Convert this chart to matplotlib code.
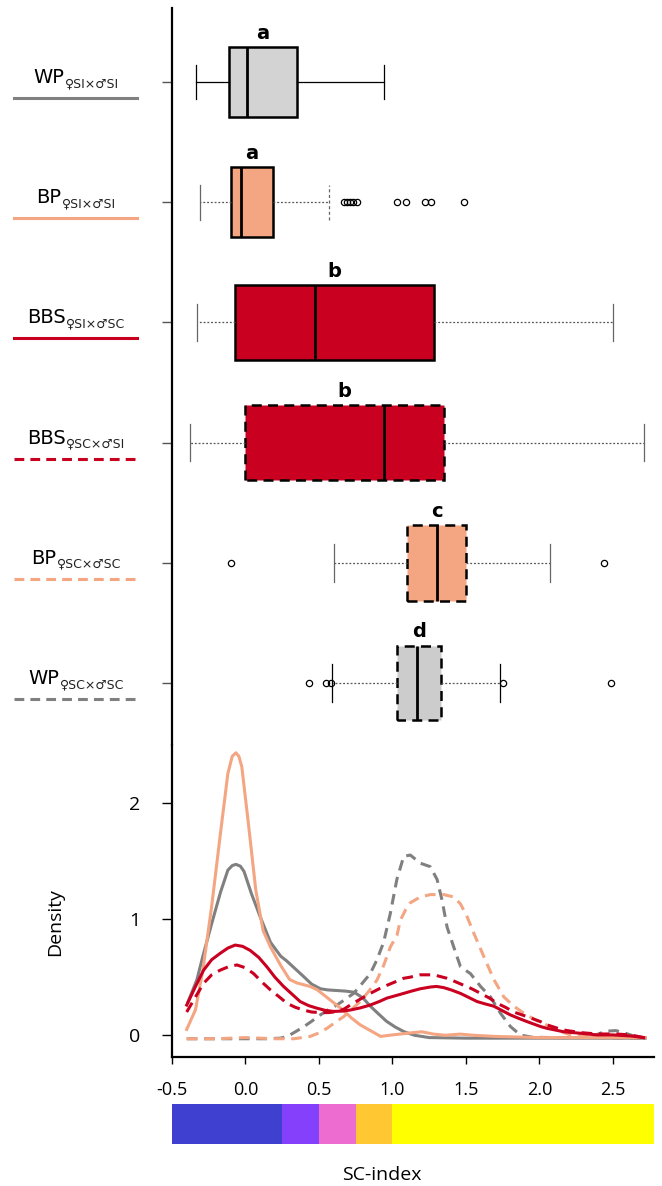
import matplotlib
matplotlib.use("Agg")
import matplotlib.pyplot as plt
from matplotlib.lines import Line2D
from matplotlib.transforms import IdentityTransform

plt.rcParams['font.family'] = 'DejaVu Sans'
plt.rcParams['axes.unicode_minus'] = False

# ---- boxplot data (groups listed top to bottom) ----
groups = ['WP', 'BP', 'BBS', 'BBS', 'BP', 'WP']
subs = ['♀SI×♂SI', '♀SI×♂SI', '♀SI×♂SC', '♀SC×♂SI', '♀SC×♂SC', '♀SC×♂SC']
letters = ['a', 'a', 'b', 'b', 'c', 'd']

whislo = [-0.34, -0.31, -0.33, -0.38, 0.60, 0.59]
q1 = [-0.11, -0.10, -0.07, 0.00, 1.10, 1.03]
med = [0.01, -0.03, 0.475, 0.94, 1.30, 1.17]
q3 = [0.35, 0.19, 1.28, 1.35, 1.50, 1.33]
whishi = [0.94, 0.57, 2.50, 2.71, 2.07, 1.73]
fliers = [[],
          [0.67, 0.69, 0.71, 0.73, 0.76, 1.03, 1.09, 1.22, 1.26, 1.49],
          [],
          [],
          [-0.10, 2.44],
          [0.43, 0.55, 0.58, 1.75, 2.49]]

box_colors = ['#D3D3D3', '#F4A582', '#CA0020', '#CA0020', '#F4A582', '#CCCCCC']
line_colors = ['#808080', '#F4A582', '#CA0020', '#CA0020', '#F4A582', '#808080']
dashed = [False, False, False, True, True, True]
box_widths = [0.58, 0.58, 0.62, 0.62, 0.63, 0.62]

# ---- density curves ----
wp_si_x = [-0.39, -0.33, -0.29, -0.23, -0.17, -0.12, -0.09, -0.065, -0.035, -0.01, 0.04, 0.10, 0.17, 0.24,
           0.28, 0.34, 0.40, 0.45, 0.51, 0.56, 0.62, 0.68, 0.74, 0.80, 0.85, 0.90, 0.96, 1.02, 1.08, 1.15,
           1.25, 1.5, 2.0, 2.5, 2.72]
wp_si_y = [0.29, 0.48, 0.68, 0.96, 1.23, 1.42, 1.46, 1.47, 1.455, 1.41, 1.22, 1.02, 0.80, 0.68,
           0.64, 0.57, 0.50, 0.44, 0.40, 0.39, 0.385, 0.38, 0.37, 0.32, 0.25, 0.19, 0.12, 0.07, 0.03, 0.0,
           -0.02, -0.025, -0.025, -0.025, -0.025]

bp_si_x = [-0.40, -0.34, -0.29, -0.23, -0.17, -0.12, -0.09, -0.065, -0.045, -0.025, 0.02, 0.07, 0.12, 0.17,
           0.24, 0.30, 0.35, 0.44, 0.49, 0.55, 0.62, 0.67, 0.72, 0.78, 0.85, 0.92, 0.98, 1.05, 1.12, 1.20,
           1.28, 1.36, 1.46, 1.55, 1.7, 2.0, 2.4, 2.72]
bp_si_y = [0.05, 0.22, 0.56, 1.11, 1.74, 2.25, 2.40, 2.43, 2.40, 2.31, 1.82, 1.25, 0.90, 0.76,
           0.60, 0.48, 0.45, 0.42, 0.39, 0.33, 0.26, 0.21, 0.15, 0.09, 0.04, -0.01, 0.0, 0.01, 0.02, 0.03,
           0.01, 0.0, 0.01, 0.0, -0.01, -0.02, -0.02, -0.02]

bbs1_x = [-0.40, -0.34, -0.285, -0.23, -0.172, -0.12, -0.07, -0.02, 0.032, 0.09, 0.145, 0.20, 0.259, 0.32,
          0.372, 0.43, 0.486, 0.54, 0.6, 0.66, 0.713, 0.78, 0.849, 0.91, 0.963, 1.02, 1.076, 1.13, 1.19,
          1.258, 1.30, 1.349, 1.40, 1.463, 1.52, 1.576, 1.63, 1.69, 1.75, 1.803, 1.86, 1.917, 2.008, 2.05,
          2.166, 2.28, 2.39, 2.5, 2.62, 2.71]
bbs1_y = [0.26, 0.42, 0.56, 0.65, 0.705, 0.75, 0.776, 0.765, 0.73, 0.67, 0.59, 0.50, 0.42, 0.35,
          0.29, 0.255, 0.233, 0.215, 0.205, 0.208, 0.217, 0.235, 0.26, 0.29, 0.32, 0.34, 0.36, 0.38, 0.40,
          0.415, 0.42, 0.41, 0.39, 0.36, 0.325, 0.29, 0.27, 0.25, 0.21, 0.175, 0.145, 0.117, 0.075, 0.06,
          0.03, 0.017, 0.003, 0.003, -0.006, -0.02]

bbs2_x = [-0.40, -0.34, -0.285, -0.23, -0.172, -0.115, -0.058, 0.0, 0.056, 0.11, 0.17, 0.23, 0.282, 0.34,
          0.395, 0.45, 0.509, 0.565, 0.622, 0.67, 0.713, 0.78, 0.849, 0.91, 0.963, 1.02, 1.076, 1.122, 1.19,
          1.281, 1.372, 1.43, 1.485, 1.54, 1.6, 1.66, 1.713, 1.77, 1.826, 1.917, 2.008, 2.05, 2.16, 2.28,
          2.39, 2.52, 2.62, 2.71]
bbs2_y = [0.20, 0.33, 0.447, 0.52, 0.56, 0.59, 0.605, 0.58, 0.53, 0.46, 0.39, 0.33, 0.275, 0.24,
          0.217, 0.20, 0.195, 0.195, 0.203, 0.225, 0.26, 0.31, 0.36, 0.40, 0.43, 0.46, 0.49, 0.50, 0.52,
          0.52, 0.49, 0.46, 0.43, 0.40, 0.36, 0.32, 0.275, 0.24, 0.20, 0.16, 0.117, 0.09, 0.046, 0.023,
          0.011, 0.011, 0.003, -0.02]

bp_sc_x = [-0.40, -0.2, 0.0, 0.2, 0.33, 0.44, 0.50, 0.555, 0.61, 0.668, 0.72, 0.781, 0.84, 0.895, 0.94,
           0.986, 1.031, 1.054, 1.09, 1.122, 1.19, 1.258, 1.349, 1.417, 1.463, 1.508, 1.553, 1.621, 1.69,
           1.758, 1.826, 1.894, 1.962, 2.03, 2.12, 2.21, 2.4, 2.6, 2.72]
bp_sc_y = [-0.03, -0.03, -0.02, -0.03, -0.03, -0.01, 0.02, 0.06, 0.11, 0.16, 0.22, 0.29, 0.38, 0.475, 0.60,
           0.76, 0.86, 0.99, 1.08, 1.14, 1.19, 1.21, 1.21, 1.19, 1.13, 1.02, 0.88, 0.68, 0.48,
           0.33, 0.25, 0.19, 0.14, 0.10, 0.046, 0.003, -0.02, -0.025, -0.025]

wp_sc_x = [-0.40, -0.2, 0.0, 0.15, 0.236, 0.282, 0.34, 0.395, 0.45, 0.509, 0.565, 0.622, 0.68, 0.736, 0.79,
           0.849, 0.895, 0.94, 0.986, 1.03, 1.077, 1.122, 1.19, 1.258, 1.304, 1.338, 1.372, 1.417, 1.463,
           1.531, 1.6, 1.667, 1.735, 1.803, 1.87, 1.95, 2.1, 2.32, 2.40, 2.45, 2.52, 2.58, 2.65, 2.72]
wp_sc_y = [-0.03, -0.03, -0.03, -0.03, -0.025, -0.012, 0.03, 0.072, 0.12, 0.175, 0.22, 0.26, 0.31, 0.36, 0.44,
           0.53, 0.65, 0.80, 1.05, 1.34, 1.54, 1.55, 1.48, 1.45, 1.34, 1.16, 0.93, 0.76, 0.59,
           0.53, 0.42, 0.33, 0.19, 0.075, 0.003, -0.017, -0.02, -0.02, 0.01, 0.035, 0.04, 0.02, -0.01, -0.025]

# SC-index colour strip
strip_edges = [-0.5, 0.25, 0.5, 0.75, 1.0, 2.78]
strip_colors = ['#4040D0', '#8440FA', '#EC6CD0', '#FFC832', '#FFFF00']

W, H = 662, 1186
fig = plt.figure(figsize=(W / 100, H / 100), dpi=100)

ax_box = fig.add_axes([172 / W, 1 - 745 / H, 482 / W, 737 / H])
ax_den = fig.add_axes([172 / W, 1 - 1057 / H, 482 / W, 312 / H])
ax_bar = fig.add_axes([172 / W, 1 - 1144 / H, 482 / W, 40 / H])

xlim = (-0.5, 2.78)
axis_font = 'Open Sans'

# ---- boxplots ----
positions = [6, 5, 4, 3, 2, 1]
for i in range(6):
    stats = [dict(whislo=whislo[i], q1=q1[i], med=med[i], q3=q3[i], whishi=whishi[i], fliers=fliers[i])]
    ls_box = (0, (4, 2.5)) if dashed[i] else '-'
    if i == 0:
        wprops = dict(color='black', lw=0.9, ls='-')
        cprops = dict(color='black', lw=0.9)
    else:
        wprops = dict(color='#555555', lw=0.9, ls=(0, (1.5, 1.5)))
        cprops = dict(color='black' if i == 5 else '#666666', lw=0.9)
    res = ax_box.bxp(stats, positions=[positions[i]], widths=box_widths[i], capwidths=box_widths[i] * 0.5,
                     orientation='horizontal', patch_artist=True, manage_ticks=False,
                     boxprops=dict(facecolor=box_colors[i], edgecolor='black', lw=1.8, ls=ls_box),
                     medianprops=dict(color='black', lw=2.0),
                     whiskerprops=wprops, capprops=cprops,
                     flierprops=dict(marker='o', markersize=4.5, markerfacecolor='none',
                                     markeredgecolor='black', markeredgewidth=0.9))
    if i == 1:
        res['caps'][1].set_linestyle((0, (2.5, 2)))
    ax_box.annotate(letters[i], xy=((q1[i] + q3[i]) / 2, positions[i] + box_widths[i] / 2),
                    xytext=(0, 6), textcoords='offset points', ha='center', va='baseline',
                    fontsize=14, fontweight='bold')

ax_box.set_xlim(xlim)
ax_box.set_ylim(0.484, 6.616)
for s in ['top', 'right', 'bottom']:
    ax_box.spines[s].set_visible(False)
ax_box.spines['left'].set_linewidth(1.6)
ax_box.set_xticks([])
ax_box.set_yticks(positions)
ax_box.set_yticklabels([])
ax_box.tick_params(axis='y', length=7, width=1, color='#555555')

# ---- group labels with line samples ----
renderer = fig.canvas.get_renderer()
for i in range(6):
    cy = ax_box.transData.transform((0, positions[i]))[1]
    t1 = fig.text(0, 0, groups[i], fontsize=14, transform=IdentityTransform(), va='baseline')
    t2 = fig.text(0, 0, subs[i], fontsize=9, transform=IdentityTransform(), va='baseline', color='#222222')
    w1 = t1.get_window_extent(renderer).width
    w2 = t2.get_window_extent(renderer).width
    x0 = 76 - (w1 + w2) / 2
    t1.set_position((x0, cy - 1))
    t2.set_position((x0 + w1 + 0.5, cy - 5))
    ln = Line2D([14, 137], [cy - 16, cy - 16], transform=IdentityTransform(), color=line_colors[i], lw=2.2)
    if dashed[i]:
        ln.set_dashes((3.2, 2.0))
    fig.add_artist(ln)

# ---- density curves ----
dash = (3.5, 2.2)
ax_den.plot(wp_sc_x, wp_sc_y, color='#808080', lw=2.2, dashes=dash)
ax_den.plot(bp_sc_x, bp_sc_y, color='#F4A582', lw=2.2, dashes=dash)
ax_den.plot(wp_si_x, wp_si_y, color='#808080', lw=2.2)
ax_den.plot(bp_si_x, bp_si_y, color='#F4A582', lw=2.2)
ax_den.plot(bbs2_x, bbs2_y, color='#CA0020', lw=2.2, dashes=dash)
ax_den.plot(bbs1_x, bbs1_y, color='#CA0020', lw=2.2)

ax_den.set_xlim(xlim)
ax_den.set_ylim(-0.187, 2.497)
for s in ['top', 'right']:
    ax_den.spines[s].set_visible(False)
ax_den.spines['left'].set_linewidth(1.6)
ax_den.spines['bottom'].set_linewidth(1.6)
ax_den.set_xticks([-0.5, 0.0, 0.5, 1.0, 1.5, 2.0, 2.5])
ax_den.set_xticklabels(['-0.5', '0.0', '0.5', '1.0', '1.5', '2.0', '2.5'], fontfamily=axis_font)
ax_den.set_yticks([0, 1, 2])
ax_den.set_yticklabels(['0', '1', '2'], fontfamily=axis_font)
ax_den.tick_params(axis='x', length=5, width=1, pad=12, labelsize=13)
ax_den.tick_params(axis='y', length=7, width=1, pad=16, labelsize=14)
ax_den.set_ylabel('Density', fontsize=14, fontfamily=axis_font)
ax_den.yaxis.set_label_coords(-0.224, 0.433)

# ---- colour strip ----
strip_widths = [strip_edges[k + 1] - strip_edges[k] for k in range(len(strip_colors))]
ax_bar.barh(0, strip_widths, left=strip_edges[:-1], height=1, color=strip_colors, linewidth=0)
ax_bar.set_xlim(xlim)
ax_bar.set_ylim(-0.5, 0.5)
ax_bar.axis('off')

fig.text(382 / W, 1 - 1175 / H, 'SC-index', ha='center', va='center', fontsize=14, fontfamily=axis_font)

fig.savefig('out.png', dpi=100)
